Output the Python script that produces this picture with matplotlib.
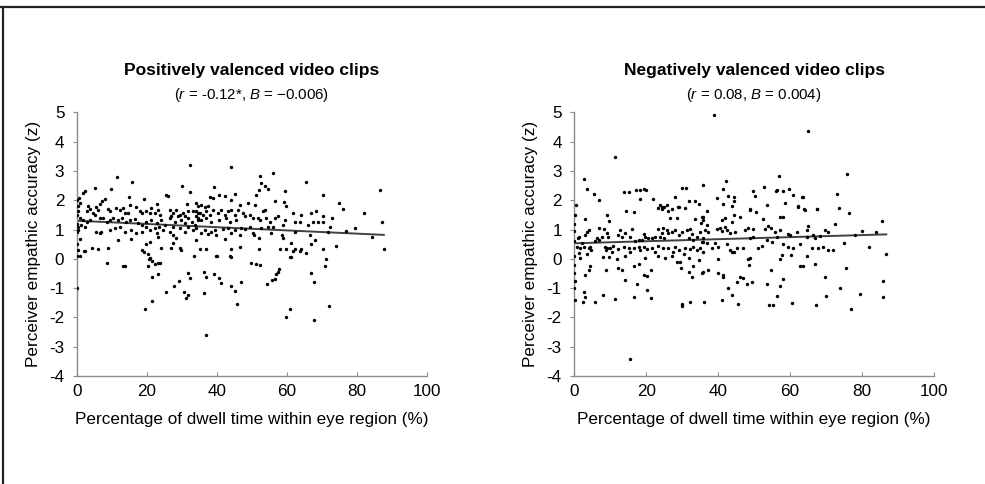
import numpy as np
import matplotlib
matplotlib.use("Agg")
import matplotlib.pyplot as plt
from matplotlib.lines import Line2D

plt.rcParams['font.family'] = ['Liberation Sans', 'DejaVu Sans']
plt.rcParams['axes.unicode_minus'] = False
plt.rcParams['mathtext.fontset'] = 'custom'
plt.rcParams['mathtext.it'] = 'Liberation Sans:italic'
plt.rcParams['mathtext.rm'] = 'Liberation Sans'

# values: (dwell time %, empathic accuracy z)
pos_pts = [
    (32.5, 3.19), (11.6, 2.78), (15.7, 2.62), (9.9, 2.38), (5.1, 2.41), (2.2, 2.33), (1.8, 2.26),
    (30.0, 2.49), (32.3, 2.29), (25.6, 2.18), (26.2, 2.15), (15.0, 2.10), (19.3, 2.04), (0.6, 2.07),
    (8.0, 2.04), (7.3, 1.96), (6.6, 1.88), (0.9, 1.90), (23.0, 1.88), (31.5, 1.88), (34.2, 1.90),
    (0.4, 1.64), (3.2, 1.79), (3.7, 1.70), (2.8, 1.62), (5.6, 1.76), (6.1, 1.67), (4.5, 1.56),
    (5.1, 1.50), (9.0, 1.70), (9.4, 1.62), (11.3, 1.73), (12.3, 1.65), (13.2, 1.73), (13.7, 1.56),
    (14.7, 1.58), (15.1, 1.84), (17.0, 1.76), (18.0, 1.62), (18.5, 1.56), (19.7, 1.62), (20.9, 1.56),
    (21.3, 1.73), (22.3, 1.56), (23.2, 1.65), (23.7, 1.50), (26.6, 1.67), (27.5, 1.56), (27.0, 1.45),
    (28.5, 1.67), (29.4, 1.50), (30.4, 1.56), (30.9, 1.45), (31.8, 1.62), (33.2, 1.62), (34.2, 1.45),
    (34.7, 1.56), (0.9, 1.39), (1.8, 1.33), (2.8, 1.27), (3.7, 1.31), (1.3, 1.16), (2.3, 1.10),
    (6.6, 1.39), (7.5, 1.39), (8.5, 1.27), (9.4, 1.31), (10.4, 1.39), (11.8, 1.33), (12.8, 1.39),
    (14.2, 1.27), (15.1, 1.33), (16.6, 1.35), (17.5, 1.22), (18.5, 1.16), (19.9, 1.27), (21.3, 1.31),
    (22.8, 1.22), (24.2, 1.33), (25.1, 1.16), (26.6, 1.39), (28.0, 1.27), (29.0, 1.45), (29.9, 1.31),
    (30.9, 1.22), (31.8, 1.39), (32.8, 1.27), (33.7, 1.16), (34.7, 1.33), (0.4, 0.99), (0.9, 0.67),
    (5.6, 0.93), (6.6, 0.88), (7.0, 0.93), (9.4, 0.99), (10.9, 1.05), (12.3, 1.10), (13.7, 0.93),
    (15.6, 0.99), (17.0, 0.88), (18.5, 0.93), (19.9, 1.08), (20.9, 0.99), (22.3, 1.05), (23.0, 0.88),
    (23.5, 1.08), (24.7, 0.99), (26.6, 0.93), (27.5, 1.10), (29.4, 1.05), (30.9, 0.93), (31.8, 1.10),
    (33.2, 0.99), (34.2, 1.05), (27.5, 0.82), (28.5, 0.71), (4.2, 0.36), (2.3, 0.28), (6.1, 0.33),
    (0.4, 0.31), (0.1, 0.08), (9.0, 0.36), (11.8, 0.63), (15.4, 0.67), (18.5, 0.31), (19.9, 0.51),
    (20.9, 0.56), (20.4, 0.17), (20.9, 0.02), (27.5, 0.54), (27.0, 0.36), (29.4, 0.36), (29.9, 0.31),
    (24.2, 0.36), (23.2, 0.74), (0.0, 1.20), (0.0, 1.50), (0.2, 1.80), (0.0, 0.90), (0.3, 1.10),
    (0.1, 2.00), (0.0, 0.50),
    (44.2, 3.15), (56.1, 2.92), (52.3, 2.83), (52.6, 2.60), (53.7, 2.47), (54.8, 2.38), (52.0, 2.36),
    (51.3, 2.18), (65.6, 2.62), (39.2, 2.45), (40.8, 2.18), (42.5, 2.15), (45.3, 2.21), (38.0, 2.10),
    (38.9, 2.06), (59.4, 2.30), (56.6, 1.97), (59.2, 1.93), (59.9, 1.81), (70.4, 2.17), (48.9, 1.92),
    (44.2, 2.01), (46.6, 1.84), (51.0, 1.84), (34.7, 1.79), (35.6, 1.84), (36.6, 1.76), (37.5, 1.81),
    (34.2, 1.62), (35.1, 1.56), (36.1, 1.50), (37.0, 1.62), (38.0, 1.50), (38.9, 1.67), (34.7, 1.39),
    (35.6, 1.33), (37.0, 1.39), (38.5, 1.27), (40.4, 1.56), (41.3, 1.67), (42.3, 1.50), (43.2, 1.62),
    (44.2, 1.67), (45.1, 1.50), (46.1, 1.65), (40.8, 1.33), (42.7, 1.39), (43.7, 1.27), (45.6, 1.31),
    (47.5, 1.56), (48.0, 1.45), (49.4, 1.50), (50.4, 1.39), (51.8, 1.39), (52.3, 1.33), (53.2, 1.62),
    (53.7, 1.67), (54.2, 1.39), (55.1, 1.27), (56.6, 1.39), (57.5, 1.45), (58.9, 1.16), (59.4, 1.33),
    (61.8, 1.56), (62.3, 1.27), (63.7, 1.27), (64.2, 1.50), (67.0, 1.56), (68.5, 1.62), (68.9, 1.27),
    (70.4, 1.45), (66.1, 1.16), (67.5, 1.27), (70.4, 1.27), (36.6, 0.99), (38.5, 0.93), (39.4, 0.99),
    (41.8, 1.01), (43.2, 1.04), (45.1, 0.99), (47.0, 1.05), (48.0, 1.01), (49.4, 1.10), (52.7, 1.05),
    (54.6, 1.10), (56.1, 1.10), (35.6, 0.88), (37.5, 0.85), (39.9, 0.82), (44.2, 0.88), (42.3, 0.67),
    (46.6, 0.82), (50.4, 0.88), (50.8, 0.82), (52.0, 0.71), (55.6, 0.88), (58.7, 0.82), (58.9, 0.71),
    (62.3, 0.90), (66.6, 0.82), (68.0, 0.65), (34.2, 0.65), (35.1, 0.33), (37.0, 0.33), (39.9, 0.10),
    (44.2, 0.33), (46.8, 0.40), (44.2, 0.06), (52.0, 0.33), (58.0, 0.33), (59.9, 0.33), (61.3, 0.53),
    (62.3, 0.33), (64.0, 0.33), (67.0, 0.51), (70.4, 0.33), (61.3, 0.06),
    (0.9, 0.10), (2.1, 0.27), (0.1, -1.00), (8.5, -0.15), (13.2, -0.26), (13.7, -0.24), (19.1, 0.25),
    (20.6, -0.01), (21.5, -0.07), (20.4, -0.26), (22.3, -0.18), (23.2, -0.15), (23.9, -0.15),
    (23.2, -0.51), (21.6, -0.63), (19.5, -1.71), (21.5, -1.43), (25.6, -1.13), (27.7, -0.91),
    (29.2, -0.77), (31.8, -0.47), (32.3, -0.65), (30.7, -1.14), (31.8, -1.23), (31.2, -1.35),
    (33.4, 0.08), (36.4, -0.44), (36.8, -0.61), (36.4, -1.17), (36.8, -2.59), (39.2, -0.51),
    (40.6, -0.65), (40.2, 0.11), (41.1, -0.83), (44.2, -0.92), (45.3, -1.09), (43.9, 0.10),
    (46.9, -0.79), (45.9, -1.55), (49.7, -0.15), (51.3, -0.19), (52.5, -0.20), (54.4, -0.85),
    (55.9, -0.73), (56.8, -0.68), (57.0, -0.51), (57.4, -0.44), (57.7, -0.35), (61.0, 0.05),
    (59.7, -1.99), (61.0, -1.70), (67.1, -0.49), (67.9, -0.80), (67.9, -2.08), (65.4, 0.19),
    (63.7, 0.28), (61.8, 0.28), (70.9, -0.26), (71.3, -0.01),
    (72.0, -1.60), (71.8, 0.90), (73.0, 1.40), (75.0, 1.90), (77.0, 0.95), (79.5, 1.05), (82.0, 1.55),
    (86.8, 2.35), (87.3, 1.25), (87.8, 0.35), (74.0, 0.45), (76.0, 1.70), (72.5, 1.10), (84.5, 0.75),
]

neg_pts = [
    (11.2, 3.47), (2.6, 2.72), (3.5, 2.38), (5.6, 2.22), (6.8, 2.02), (0.5, 1.85), (13.7, 2.27),
    (15.1, 2.27), (17.1, 2.34), (18.3, 2.36), (19.3, 2.38), (19.9, 2.36), (18.3, 2.04), (21.9, 2.04),
    (27.9, 2.10), (29.9, 2.42), (31.0, 2.42), (35.7, 2.53), (31.8, 1.96), (33.6, 1.98), (34.7, 1.88),
    (23.9, 1.85), (24.5, 1.76), (25.7, 1.85), (28.8, 1.77),
    (39.0, 4.91), (64.9, 4.35), (42.2, 2.64), (41.3, 2.38), (39.6, 2.06), (42.9, 2.13), (44.3, 2.11),
    (41.5, 1.87), (43.8, 1.81), (44.3, 1.96), (49.8, 2.32), (50.3, 2.13), (48.9, 1.70), (52.9, 2.44),
    (53.5, 1.85), (57.0, 2.84), (56.1, 2.32), (56.5, 2.36), (58.1, 2.30), (59.7, 2.39), (58.6, 1.90),
    (60.9, 2.17), (63.3, 2.11), (63.7, 2.11), (62.3, 1.79), (64.0, 1.70), (67.4, 1.70),
    (23.4, 1.75), (24.5, 1.70), (25.1, 1.78), (26.0, 1.64), (27.3, 1.70), (29.0, 1.78), (30.8, 1.75),
    (26.7, 1.41), (33.6, 1.36), (35.9, 1.44), (35.3, 1.21), (28.5, 1.39), (2.9, 1.36), (14.4, 1.64),
    (16.5, 1.59), (9.1, 1.50), (9.8, 1.29), (4.0, 0.99), (3.5, 0.91), (3.1, 0.82), (1.2, 0.76),
    (1.0, 0.70), (2.1, 0.53), (7.0, 1.04), (8.4, 1.02), (6.3, 0.70), (5.8, 0.61), (6.8, 0.65),
    (7.7, 0.73), (9.5, 0.76), (9.1, 0.87), (12.1, 0.82), (12.8, 0.99), (13.2, 0.76), (14.2, 0.87),
    (15.6, 0.73), (16.0, 1.02), (17.0, 0.61), (17.9, 0.65), (19.3, 0.84), (19.7, 0.76), (20.6, 0.70),
    (18.8, 0.65), (21.6, 0.70), (22.5, 0.76), (23.4, 1.02), (24.8, 1.04), (25.7, 0.99), (24.4, 0.87),
    (26.2, 0.87), (23.9, 0.76), (25.1, 0.70), (27.1, 0.91), (28.1, 0.99), (29.0, 0.82), (29.9, 0.93),
    (31.3, 0.99), (32.2, 1.02), (32.7, 0.84), (31.8, 0.70), (33.1, 0.65), (34.1, 0.76), (35.0, 0.93),
    (35.9, 0.70), (35.5, 0.59), (0.7, 0.42), (1.7, 0.36), (2.6, 0.42), (4.4, 0.42), (4.0, 0.36),
    (1.2, 0.19), (1.7, 0.02), (3.5, 0.16), (4.7, 0.30), (8.6, 0.42), (9.1, 0.36), (10.0, 0.38),
    (10.9, 0.45), (10.5, 0.25), (8.8, 0.30), (12.3, 0.34), (13.7, 0.42), (15.1, 0.38), (15.6, 0.25),
    (16.5, 0.36), (17.9, 0.42), (18.3, 0.30), (19.3, 0.42), (20.2, 0.34), (21.6, 0.38), (22.5, 0.25),
    (23.4, 0.45), (24.8, 0.36), (26.2, 0.38), (28.1, 0.42), (27.6, 0.25), (29.0, 0.30), (30.8, 0.38),
    (32.2, 0.34), (33.1, 0.42), (34.1, 0.30), (35.0, 0.38), (35.9, 0.25), (8.1, 0.05), (9.8, 0.05),
    (11.9, 0.00), (14.2, 0.08), (19.7, 0.02), (23.4, 0.08), (25.3, 0.04), (27.1, 0.08), (30.4, 0.16),
    (4.4, -0.26), (4.2, -0.38), (3.1, -0.55), (8.9, -0.38), (12.3, -0.30), (13.2, -0.38), (16.5, -0.26),
    (17.9, -0.19), (19.3, -0.55), (20.2, -0.57), (21.4, -0.38), (28.5, -0.12), (29.4, -0.12),
    (29.7, -0.32), (31.8, 0.02), (32.9, -0.26), (31.8, -0.44), (32.7, -0.61), (34.7, -0.04),
    (35.9, -0.44), (0.3, -0.75), (14.2, -0.72), (17.4, -0.87), (2.6, -1.14), (20.2, -1.06),
    (37.0, 1.64), (48.9, 1.67), (50.6, 1.61), (62.3, 1.78), (64.2, 1.67), (67.4, 1.70), (57.2, 1.44),
    (58.0, 1.44), (52.4, 1.36), (35.5, 1.44), (35.9, 1.33), (41.9, 1.39), (41.0, 1.33), (44.3, 1.50),
    (46.1, 1.44), (43.8, 1.27), (36.9, 1.16), (36.4, 0.99), (37.3, 0.93), (39.6, 1.02), (40.6, 1.04),
    (41.0, 0.95), (42.0, 1.10), (42.4, 0.99), (43.3, 0.87), (44.7, 0.91), (47.5, 0.99), (48.4, 1.04),
    (49.8, 1.02), (54.0, 1.13), (54.6, 1.04), (55.8, 0.93), (57.2, 0.99), (59.5, 0.84), (60.0, 0.82),
    (61.9, 0.91), (64.6, 0.99), (65.1, 1.13), (66.5, 0.82), (68.3, 0.79), (69.7, 0.99), (70.6, 0.93),
    (53.1, 1.02), (35.9, 0.59), (36.9, 0.53), (38.2, 0.38), (39.2, 0.53), (40.1, 0.42), (42.4, 0.50),
    (43.3, 0.30), (43.8, 0.25), (44.3, 0.22), (45.2, 0.36), (47.0, 0.38), (48.9, 0.70), (49.8, 0.73),
    (51.2, 0.36), (52.1, 0.45), (53.5, 0.65), (54.9, 0.59), (56.3, 0.76), (58.1, 0.50), (59.5, 0.42),
    (60.9, 0.38), (62.8, 0.50), (64.6, 0.76), (66.0, 0.38), (66.9, 0.70), (67.9, 0.36), (69.3, 0.42),
    (70.6, 0.30), (40.1, 0.00), (37.3, -0.38), (35.5, -0.49), (40.1, -0.49), (41.5, -0.55),
    (41.3, -0.61), (48.9, 0.04), (48.4, 0.00), (48.7, -0.21), (54.6, -0.38), (57.7, 0.13), (57.2, 0.00),
    (60.3, 0.13), (64.6, 0.08), (62.8, -0.23), (63.7, -0.26), (67.0, -0.19), (69.7, -0.61),
    (46.1, -0.61), (47.0, -0.64), (45.4, -0.78), (48.0, -0.87), (49.4, -0.78), (58.0, -0.69),
    (57.2, -0.91), (53.5, -0.87), (42.9, -1.00),
    (2.3, -1.48), (2.9, -1.29), (5.8, -1.48), (8.0, -1.25), (11.2, -1.38), (16.5, -1.31), (21.4, -1.34),
    (29.9, -1.61), (30.1, -1.54), (32.2, -1.46), (36.2, -1.48), (41.0, -1.40), (43.8, -1.25),
    (45.6, -1.55), (54.3, -1.59), (55.2, -1.57), (56.3, -1.26), (60.6, -1.49), (67.2, -1.57),
    (69.9, -1.26), (15.5, -3.41),
    (72.0, 0.30), (72.5, 1.20), (73.5, 1.75), (74.0, -1.00), (75.0, 0.55), (76.0, 2.90), (76.5, 1.55),
    (77.0, -1.70), (78.0, 0.80), (79.5, -1.20), (80.0, 0.95), (82.0, 0.40), (84.0, 0.90), (85.5, 1.30),
    (86.0, -0.75), (86.0, -1.30), (86.8, 0.15), (73.0, 2.20), (75.5, -0.30),
    (0.0, -0.20), (0.0, 0.10), (0.0, -0.50), (0.0, 0.95), (0.0, 1.20), (0.0, -1.00), (0.3, 1.50),
    (0.0, 0.60), (0.2, -1.40),
]

# regression lines (intercept, slope)
pos_fit = (1.30, -0.0055)
neg_fit = (0.53, 0.0035)

titles = ['Positively valenced video clips', 'Negatively valenced video clips']
subtitles = ['($\\it{r}$ = -0.12*, $\\it{B}$ = \u22120.006)', '($\\it{r}$ = 0.08, $\\it{B}$ = 0.004)']
xticks = [0, 20, 40, 60, 80, 100]
yticks = [5, 4, 3, 2, 1, 0, -1, -2, -3, -4]
xlabel = 'Percentage of dwell time within eye region (%)'
ylabel = 'Perceiver empathic accuracy (z)'

fig = plt.figure(figsize=(9.85, 4.84), dpi=100)
ax1 = fig.add_axes([0.078, 0.223, 0.355, 0.545])
ax2 = fig.add_axes([0.583, 0.223, 0.365, 0.545])

for ax, pts, fit, title, sub in zip([ax1, ax2], [pos_pts, neg_pts], [pos_fit, neg_fit], titles, subtitles):
    pts = np.array(pts)
    ax.scatter(pts[:, 0], pts[:, 1], s=6, color='black', linewidths=0, zorder=3)
    xs = np.array([0, pts[:, 0].max()])
    ax.plot(xs, fit[0] + fit[1] * xs, color='#404040', lw=1.4, zorder=2)
    ax.set_xlim(0, 100)
    ax.set_ylim(-4, 5)
    ax.set_xticks(xticks)
    ax.set_yticks(yticks)
    ax.tick_params(axis='x', direction='in', length=3, pad=6, labelsize=12.3, color='#8c8c8c')
    ax.tick_params(axis='y', direction='out', length=3, pad=6, labelsize=12.3, color='#8c8c8c')
    for s in ['top', 'right']:
        ax.spines[s].set_visible(False)
    for s in ['left', 'bottom']:
        ax.spines[s].set_color('#8c8c8c')
        ax.spines[s].set_linewidth(1.0)
    ax.set_xlabel(xlabel, fontsize=12.3, labelpad=9)
    ax.set_ylabel(ylabel, fontsize=12.3, labelpad=6)
    ax.text(0.5, 1.16, title, transform=ax.transAxes, ha='center', va='center',
            fontsize=12.5, fontweight='bold')
    ax.text(0.5, 1.066, sub, transform=ax.transAxes, ha='center', va='center', fontsize=10.8)

# frame lines along the top and left edge
fig.add_artist(Line2D([0, 1], [0.986, 0.986], transform=fig.transFigure, color='#222222', lw=1.6))
fig.add_artist(Line2D([0.003, 0.003], [0, 0.986], transform=fig.transFigure, color='#222222', lw=1.6))

fig.savefig('out.png', dpi=100)
